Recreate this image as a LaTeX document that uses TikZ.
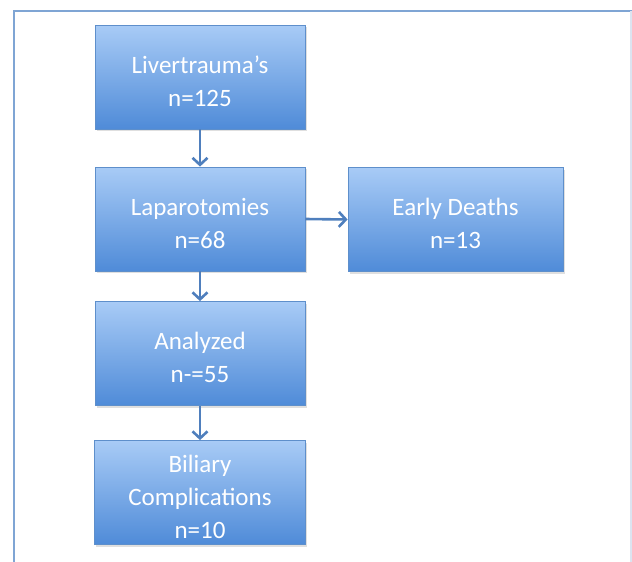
\documentclass[tikz,border=0pt]{standalone}
\usepackage{fontspec}
\setmainfont{Carlito}
\usetikzlibrary{arrows.meta,shadows}
\definecolor{boxtop}{HTML}{A8CBF6}
\definecolor{boxbot}{HTML}{4F8BD8}
\definecolor{boxedge}{HTML}{5E8FCB}
\definecolor{linkc}{HTML}{4F7FBD}
\definecolor{framec}{HTML}{7FA5D4}
\definecolor{framer}{HTML}{DCE4F0}
\begin{document}
\begin{tikzpicture}[x=1pt,y=-1pt,
  box/.style={draw=boxedge, line width=0.8pt, top color=boxtop, bottom color=boxbot,
    inner sep=0pt, minimum width=210pt, minimum height=104pt,
    drop shadow={shadow xshift=1.5pt, shadow yshift=-2pt, opacity=0.25}},
  boxtext/.style={text=white, font=\fontsize{25}{33}\selectfont, align=center, inner sep=0pt},
  link/.style={draw=linkc, line width=2.6pt, -{Straight Barb[length=7pt,width=15pt]}}]
\useasboundingbox (0,0) rectangle (632,562);
\draw[framec, line width=2.5pt] (14,562) -- (14,11) -- (632,11);
\draw[framer, line width=2pt] (631,11) -- (631,562);
\node[box] (liver) at (200,77) {};
\node[box] (lap) at (200,219) {};
\node[box] (ana) at (200,353.5) {};
\node[box, minimum width=211pt] (bil) at (200,492.5) {};
\node[box, minimum width=215pt] (early) at (455.5,219.5) {};
\node[boxtext] (livert) at ([yshift=-4pt]liver.center) {Livertrauma’s\\n=125};
\node[boxtext] (lapt) at ([yshift=-4pt]lap.center) {Laparotomies\\n=68};
\node[boxtext] (anat) at ([yshift=-4pt]ana.center) {Analyzed\\n-=55};
\node[boxtext] (bilt) at ([yshift=-4pt]bil.center) {Biliary\\Complications\\n=10};
\node[boxtext] (earlyt) at ([yshift=-4pt]early.center) {Early Deaths\\n=13};
\draw[link] (liver.south) -- (lap.north);
\draw[link] (lap.south) -- (ana.north);
\draw[link] (ana.south) -- (bil.north);
\draw[link] (lap.east) -- (early.west);
\end{tikzpicture}
\end{document}
